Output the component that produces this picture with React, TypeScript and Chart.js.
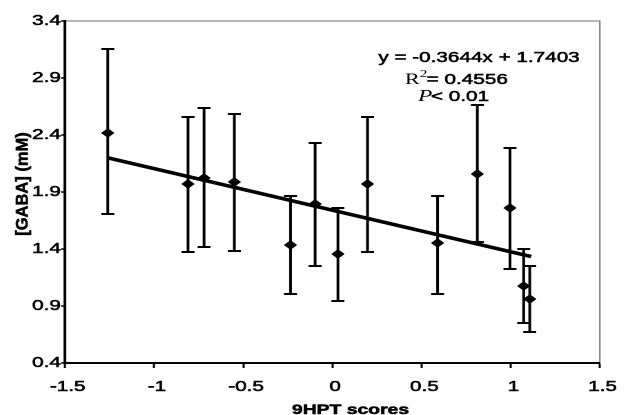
import React, { useEffect, useRef } from "react";
import { Chart, registerables } from "chart.js";

Chart.register(...registerables);

// ---- data ----
const xScores = [-1.26, -0.81, -0.72, -0.55, -0.235, -0.097, 0.031, 0.197, 0.59, 0.813, 0.996, 1.073, 1.107];
const gabaMean = [2.418, 1.97, 2.023, 1.988, 1.435, 1.795, 1.356, 1.97, 1.453, 2.058, 1.76, 1.075, 0.961];
const gabaUpper = [3.154, 2.558, 2.637, 2.584, 1.865, 2.33, 1.76, 2.558, 1.865, 2.663, 2.286, 1.4, 1.251];
const gabaLower = [1.707, 1.374, 1.418, 1.382, 1.005, 1.251, 0.944, 1.374, 1.005, 1.461, 1.225, 0.751, 0.672];
const trendX = [-1.26, 1.115];
const trendY = [2.2, 1.334];
const xTicks = [-1.5, -1, -0.5, 0, 0.5, 1, 1.5];
const xTickLabels = ["-1.5", "-1", "-0.5", "0", "0.5", "1", "1.5"];
const yTicks = [0.4, 0.9, 1.4, 1.9, 2.4, 2.9, 3.4];
const yTickLabels = ["0.4", "0.9", "1.4", "1.9", "2.4", "2.9", "3.4"];
const xTitle = "9HPT scores";
const yTitle = "[GABA] (mM)";
const eqText = "y = -0.3644x + 1.7403";
const r2Label = "R";
const r2Sup = "2";
const r2Value = "= 0.4556";
const pLabel = "P";
const pValue = "< 0.01";

// ---- layout ----
const OUT_W = 628;
const OUT_H = 415;
const W = 455; // logical width, stretched horizontally to OUT_W
const S = OUT_W / W;
const SANS = "'Liberation Sans', Arial, sans-serif";
const SERIF = "'Liberation Serif', 'Times New Roman', serif";
const STROKE = 0.55;

function heavyText(ctx: CanvasRenderingContext2D, t: string, x: number, y: number) {
  ctx.fillText(t, x, y);
  ctx.strokeText(t, x, y);
}

const extras = {
  id: "extras",
  beforeDatasetsDraw(chart: any) {
    const { ctx, scales } = chart;
    const x = scales.x;
    const y = scales.y;
    ctx.save();
    ctx.strokeStyle = "#000";
    ctx.lineCap = "butt";
    const cap = 4.7;
    xScores.forEach((xv, i) => {
      const px = x.getPixelForValue(xv);
      const top = y.getPixelForValue(gabaUpper[i]);
      const bot = y.getPixelForValue(gabaLower[i]);
      ctx.lineWidth = 2;
      ctx.beginPath();
      ctx.moveTo(px, top);
      ctx.lineTo(px, bot);
      ctx.stroke();
      ctx.lineWidth = 2;
      ctx.beginPath();
      ctx.moveTo(px - cap, top);
      ctx.lineTo(px + cap, top);
      ctx.moveTo(px - cap, bot);
      ctx.lineTo(px + cap, bot);
      ctx.stroke();
    });
    ctx.restore();
  },
  afterDraw(chart: any) {
    const { ctx, chartArea: a } = chart;
    ctx.save();
    // thin grey top/right frame
    ctx.strokeStyle = "#8a8a8a";
    ctx.lineWidth = 1.2;
    ctx.beginPath();
    ctx.moveTo(a.left + 1, a.top);
    ctx.lineTo(a.right, a.top);
    ctx.lineTo(a.right, a.bottom - 1);
    ctx.stroke();

    ctx.fillStyle = "#000";
    ctx.strokeStyle = "#000";
    ctx.lineWidth = STROKE;
    ctx.lineJoin = "round";
    // equation
    ctx.textAlign = "center";
    ctx.textBaseline = "alphabetic";
    ctx.font = `15px ${SANS}`;
    heavyText(ctx, eqText, 479 / S, 62);

    // R^2 line
    ctx.textAlign = "left";
    let cx = 405 / S;
    ctx.font = `16px ${SERIF}`;
    ctx.fillText(r2Label, cx, 84);
    cx += ctx.measureText(r2Label).width;
    ctx.font = `11px ${SERIF}`;
    ctx.fillText(r2Sup, cx, 77);
    cx += ctx.measureText(r2Sup).width - 0.5;
    ctx.font = `15px ${SANS}`;
    heavyText(ctx, r2Value, cx, 84);

    // P line
    cx = 418 / S;
    ctx.font = `italic 17px ${SERIF}`;
    ctx.fillText(pLabel, cx, 101);
    cx += ctx.measureText(pLabel).width - 1;
    ctx.font = `15px ${SANS}`;
    heavyText(ctx, pValue, cx, 101);

    // x title
    ctx.textAlign = "center";
    ctx.font = `bold 14px ${SANS}`;
    heavyText(ctx, xTitle, 350.5 / S, 414);

    // y title (rotated, not stretched)
    ctx.translate(23 / S, 184);
    ctx.scale(1 / S, 1);
    ctx.rotate(-Math.PI / 2);
    ctx.textBaseline = "middle";
    ctx.font = `bold 16.5px ${SANS}`;
    heavyText(ctx, yTitle, 0, 0);
    ctx.restore();
  },
};

export default function App() {
  const ref = useRef<HTMLCanvasElement | null>(null);

  useEffect(() => {
    const canvas = ref.current;
    if (!canvas) return;
    const chart = new Chart(canvas, {
      type: "scatter",
      data: {
        datasets: [
          {
            type: "line",
            data: trendX.map((xv, i) => ({ x: xv, y: trendY[i] })),
            borderColor: "#000",
            borderWidth: 3.5,
            pointRadius: 0,
            showLine: true,
            fill: false,
          } as any,
          {
            data: xScores.map((xv, i) => ({ x: xv, y: gabaMean[i] })),
            pointStyle: "rectRot",
            pointRadius: 4.6,
            backgroundColor: "#000",
            borderColor: "#000",
            borderWidth: 0.5,
          },
        ],
      },
      options: {
        responsive: false,
        animation: false,
        devicePixelRatio: 2,
        layout: { padding: { left: 0, right: W - 606 / S, top: 21, bottom: 0 } },
        plugins: { legend: { display: false }, tooltip: { enabled: false } },
        scales: {
          x: {
            type: "linear",
            min: -1.5,
            max: 1.5,
            afterBuildTicks: (s: any) => {
              s.ticks = xTicks.map((v) => ({ value: v }));
            },
            afterFit: (s: any) => {
              s.height = OUT_H - 363;
            },
            border: { display: true, color: "#000", width: 2 },
            grid: {
              display: true,
              drawOnChartArea: false,
              drawTicks: true,
              tickLength: 5,
              tickColor: "#000",
              tickWidth: 1.5,
            },
            ticks: {
              padding: 10,
              maxRotation: 0,
              autoSkip: false,
              labelOffset: 2,
              color: "#000",
              textStrokeColor: "#000",
              textStrokeWidth: STROKE,
              font: { family: SANS, size: 15 },
              callback: (_v: any, i: number) => xTickLabels[i],
            },
          },
          y: {
            type: "linear",
            min: 0.4,
            max: 3.4,
            afterBuildTicks: (s: any) => {
              s.ticks = yTicks.map((v) => ({ value: v }));
            },
            afterFit: (s: any) => {
              s.width = 65 / S;
            },
            border: { display: true, color: "#000", width: 2 },
            grid: {
              display: true,
              drawOnChartArea: false,
              drawTicks: true,
              tickLength: 3,
              tickColor: "#000",
              tickWidth: 1.5,
            },
            ticks: {
              padding: 0,
              autoSkip: false,
              color: "#000",
              textStrokeColor: "#000",
              textStrokeWidth: STROKE,
              font: { family: SANS, size: 15 },
              callback: (_v: any, i: number) => yTickLabels[i],
            },
          },
        },
      },
      plugins: [extras],
    });
    return () => chart.destroy();
  }, []);

  return (
    <div style={{ position: "absolute", left: 0, top: 0, width: OUT_W, height: OUT_H, background: "#fff" }}>
      <canvas
        ref={ref}
        width={W}
        height={OUT_H}
        style={{ width: `${OUT_W}px`, height: `${OUT_H}px`, display: "block" }}
      />
    </div>
  );
}
